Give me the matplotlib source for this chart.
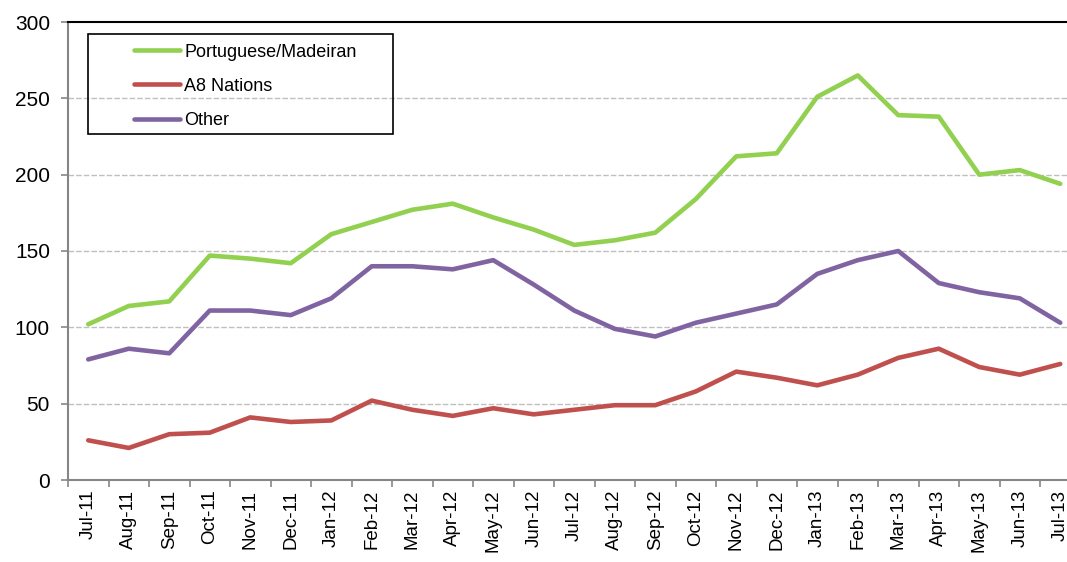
import matplotlib
matplotlib.use('Agg')
import matplotlib.pyplot as plt
from matplotlib.patches import Rectangle
import numpy as np

plt.rcParams['font.family'] = ['Liberation Sans', 'DejaVu Sans']

months = ['Jul-11', 'Aug-11', 'Sep-11', 'Oct-11', 'Nov-11', 'Dec-11',
          'Jan-12', 'Feb-12', 'Mar-12', 'Apr-12', 'May-12', 'Jun-12',
          'Jul-12', 'Aug-12', 'Sep-12', 'Oct-12', 'Nov-12', 'Dec-12',
          'Jan-13', 'Feb-13', 'Mar-13', 'Apr-13', 'May-13', 'Jun-13', 'Jul-13']

portuguese = [102, 114, 117, 147, 145, 142, 161, 169, 177, 181, 172, 164,
              154, 157, 162, 184, 212, 214, 251, 265, 239, 238, 200, 203, 194]
a8 = [26, 21, 30, 31, 41, 38, 39, 52, 46, 42, 47, 43,
      46, 49, 49, 58, 71, 67, 62, 69, 80, 86, 74, 69, 76]
other = [79, 86, 83, 111, 111, 108, 119, 140, 140, 138, 144, 128,
         111, 99, 94, 103, 109, 115, 135, 144, 150, 129, 123, 119, 103]

W, H = 1067, 562
fig = plt.figure(figsize=(W / 100, H / 100), dpi=100)
# plot area is wider than the picture: the right edge is cut off
ax = fig.add_axes([68 / W, (H - 480) / H, 1012.5 / W, 458 / H])

x = np.arange(len(months))
ax.plot(x, portuguese, color='#92D050', lw=3.3, label='Portuguese/Madeiran', solid_capstyle='round')
ax.plot(x, a8, color='#C0504D', lw=3.3, label='A8 Nations', solid_capstyle='round')
ax.plot(x, other, color='#8064A2', lw=3.3, label='Other', solid_capstyle='round')

ax.set_xlim(-0.5, len(months) - 0.5)
ax.set_ylim(0, 300)
ax.set_yticks(range(0, 301, 50))
for v in range(50, 300, 50):
    ax.axhline(v, color='#BFBFBF', lw=1, ls=(0, (4, 1.5)), zorder=0)

ax.set_xticks(x)
ax.set_xticklabels(months, rotation=90, fontsize=13.5)
ax.set_xticks(np.arange(-0.5, len(months)), minor=True)
ax.tick_params(axis='x', which='major', length=0, pad=7)
ax.tick_params(axis='x', which='minor', length=5, color='#868686', width=1.2)
ax.tick_params(axis='y', length=5, color='#868686', width=1.2, labelsize=15, pad=8)

for s in ['left', 'bottom']:
    ax.spines[s].set_color('#868686')
    ax.spines[s].set_linewidth(1.5)
ax.spines['top'].set_color('black')
ax.spines['top'].set_linewidth(1.5)
ax.spines['right'].set_visible(False)

leg = ax.legend(loc='upper left', bbox_to_anchor=(121 / W, 1 - 31 / H), bbox_transform=fig.transFigure,
                frameon=False, fontsize=13, handlelength=2.55, handletextpad=0.25,
                labelspacing=0.95, borderpad=0.7, borderaxespad=0)
fig.add_artist(Rectangle((88 / W, 1 - 134 / H), (393 - 88) / W, 100 / H,
                         transform=fig.transFigure, fill=False, ec='black', lw=1.2))

fig.savefig('out.png', dpi=100)
